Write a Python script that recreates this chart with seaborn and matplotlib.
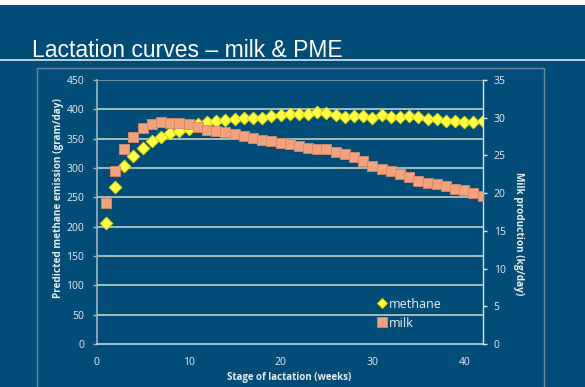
import matplotlib
matplotlib.use("Agg")
import matplotlib.pyplot as plt
from matplotlib.lines import Line2D
from matplotlib.patches import Rectangle
import seaborn as sns
import pandas as pd

# Weekly lactation data
weeks = [1, 2, 3, 4, 5, 6, 7, 8, 9, 10, 11, 12, 13, 14, 15, 16, 17, 18, 19, 20, 21,
         22, 23, 24, 25, 26, 27, 28, 29, 30, 31, 32, 33, 34, 35, 36, 37, 38, 39, 40, 41, 42]
methane = [206, 268, 303, 320, 334, 346, 353, 359, 363, 367, 375, 378, 380, 382, 384,
           385, 386, 386, 389, 391, 392, 392, 392, 395, 394, 391, 387, 389, 388, 386,
           391, 387, 387, 388, 387, 383, 384, 380, 380, 378, 379, 380]
milk = [18.7, 23.0, 25.9, 27.5, 28.7, 29.2, 29.4, 29.3, 29.3, 29.1, 28.8, 28.4, 28.3,
        28.1, 27.8, 27.6, 27.3, 27.0, 26.9, 26.7, 26.5, 26.2, 26.05, 25.9, 25.8, 25.5,
        25.25, 24.8, 24.3, 23.6, 23.25, 22.9, 22.5, 22.2, 21.6, 21.3, 21.2, 20.9, 20.5,
        20.4, 20.0, 19.6]

left_ticks = [0, 50, 100, 150, 200, 250, 300, 350, 400, 450]
right_ticks = [0, 5, 10, 15, 20, 25, 30, 35]
x_ticks = [0, 10, 20, 30, 40]

df = pd.DataFrame({"week": weeks, "methane": methane, "milk": milk})

BG = "#024C78"
TXT = "#E8EEF2"
GRID = "#D2D8C8"
DIAMOND = "#FFFF45"
DIAMOND_EDGE = "#E2D400"
SQUARE = "#F3A27E"
SQUARE_EDGE = "#D8886A"

sns.set_style("white")
plt.rcParams["font.family"] = ["Open Sans", "DejaVu Sans"]

fig = plt.figure(figsize=(5.85, 3.87), dpi=100, facecolor=BG)

# slide decorations: top strip, title rule, chart frame
fig.patches.append(Rectangle((0, 0.987), 1, 0.013, transform=fig.transFigure,
                             facecolor="white", edgecolor="none", zorder=0))
fig.add_artist(Line2D([0, 1], [0.845, 0.845], transform=fig.transFigure,
                      color="#DDE5EA", lw=1.2))
fig.patches.append(Rectangle((0.0632, -0.01), 0.8667, 0.8343, transform=fig.transFigure,
                             facecolor="none", edgecolor="#6A8AA0", lw=1.0))
fig.text(32 / 585, (387 - 57) / 387, "Lactation curves \u2013 milk & PME",
         family=["Liberation Sans", "DejaVu Sans"], fontsize=16.5, color="white",
         va="baseline", ha="left")

ax = fig.add_axes([0.1653, 0.1111, 0.6598, 0.6822])
ax.set_facecolor(BG)
ax2 = ax.twinx()

sns.scatterplot(data=df, x="week", y="methane", ax=ax, marker="D", s=42,
                color=DIAMOND, edgecolor=DIAMOND_EDGE, linewidth=0.6, zorder=3)
sns.scatterplot(data=df, x="week", y="milk", ax=ax2, marker="s", s=48,
                color=SQUARE, edgecolor=SQUARE_EDGE, linewidth=0.6, zorder=3)

ax.set_xlim(0, 42)
ax.set_ylim(0, 450)
ax2.set_ylim(0, 35)
ax.set_xticks(x_ticks)
ax.set_yticks(left_ticks)
ax2.set_yticks(right_ticks)

for y in left_ticks[1:]:
    ax.axhline(y, color=GRID if y < 450 else "#8FA8AC", lw=1.1, zorder=1)

for s in ["top", "right"]:
    ax.spines[s].set_visible(False)
for s in ["top", "left", "bottom"]:
    ax2.spines[s].set_visible(False)
ax.spines["left"].set_color("#9DB3C3")
ax.spines["left"].set_linewidth(1.2)
ax.spines["bottom"].set_color("#C5D0DA")
ax.spines["bottom"].set_linewidth(1.2)
ax2.spines["right"].set_color("#DDE4EA")
ax2.spines["right"].set_linewidth(1.0)

ax.tick_params(axis="x", length=0, pad=9, labelsize=7.5, colors=TXT)
ax.tick_params(axis="y", length=3, width=1, pad=6, labelsize=7.5, colors=TXT,
               direction="out", color="#9DB3C3")
ax2.tick_params(axis="y", length=3, width=1, pad=5, labelsize=7.5, colors=TXT,
                direction="out", color="#DDE4EA")

ax.set_xlabel("Stage of lactation (weeks)", fontsize=7, fontweight="bold", color=TXT)
ax.xaxis.set_label_coords(0.498, -0.107)
ax.set_ylabel("Predicted methane emission (gram/day)", fontsize=7.2, fontweight="bold",
              color=TXT)
ax.yaxis.set_label_coords(-0.0995, 0.552)
ax.yaxis.label.set_va("center")
ax2.set_ylabel("Milk production (kg/day)", fontsize=7.2, fontweight="bold", color=TXT,
               rotation=270)
ax2.yaxis.set_label_coords(1.092, 0.419)
ax2.yaxis.label.set_va("center")

handles = [
    Line2D([], [], linestyle="none", marker="D", markersize=5,
           markerfacecolor=DIAMOND, markeredgecolor=DIAMOND_EDGE, markeredgewidth=0.6),
    Line2D([], [], linestyle="none", marker="s", markersize=6.5,
           markerfacecolor=SQUARE, markeredgecolor=SQUARE_EDGE, markeredgewidth=0.6),
]
leg = ax2.legend(handles, ["methane", "milk"], loc="upper left",
                 bbox_to_anchor=(375.5 / 585, (387 - 297.5) / 387),
                 bbox_transform=fig.transFigure, frameon=False, fontsize=9,
                 handlelength=1.0, handletextpad=0.1, borderpad=0, borderaxespad=0,
                 labelspacing=0.5)
for t in leg.get_texts():
    t.set_color(TXT)

fig.savefig("out.png", dpi=100, facecolor=BG)
